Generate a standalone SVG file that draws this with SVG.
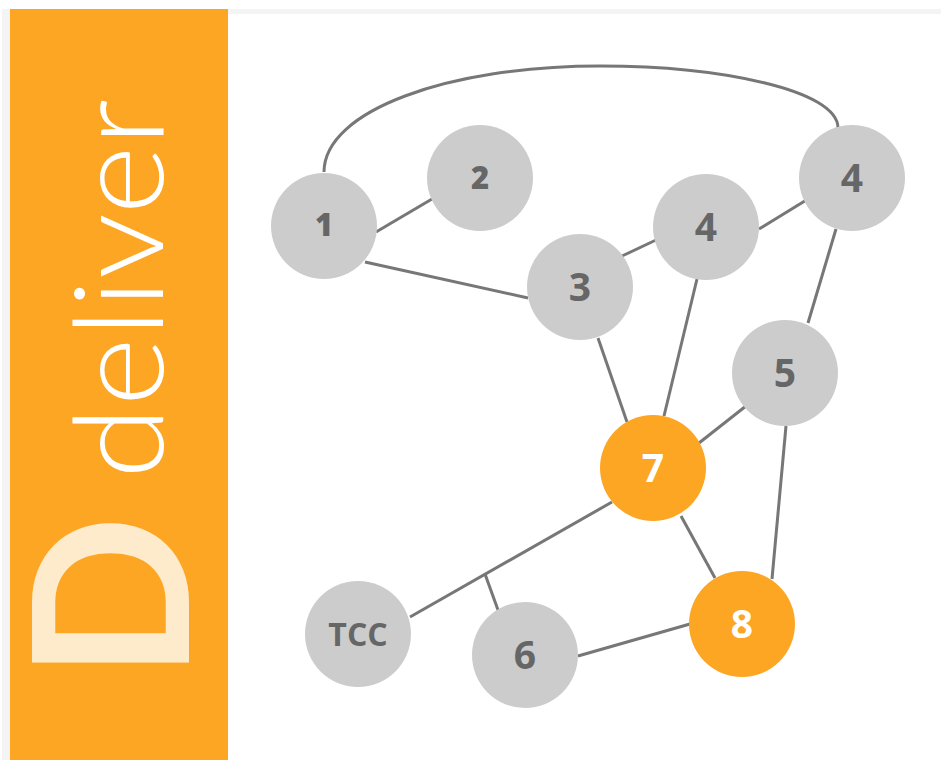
<svg xmlns="http://www.w3.org/2000/svg" width="941" height="760" viewBox="0 0 941 760">
<style>
.n{fill:#cccccc}
.o{fill:#fda624}
.t{font-family:"Open Sans","DejaVu Sans",sans-serif;font-weight:700;font-size:39px;fill:#666666;text-anchor:middle}
.s{font-size:31px;font-weight:800}
.w{fill:#ffffff}
.e{stroke:#777777;stroke-width:3;fill:none}
</style>
<rect x="0" y="0" width="941" height="760" fill="#ffffff"/>
<rect x="2" y="9" width="939" height="751" fill="#f4f4f4"/>
<rect x="10" y="14" width="931" height="746" fill="#ffffff"/>
<g id="banner">
<rect x="10" y="9" width="218" height="751" fill="#fda624"/>
<text transform="translate(163,479) rotate(-90)" font-family="Lato,'Open Sans',sans-serif" font-weight="300" font-size="124" fill="#ffffff" textLength="380" lengthAdjust="spacingAndGlyphs">deliver</text>
<text transform="translate(189,680) rotate(-90)" font-family="Lato,'Open Sans',sans-serif" font-weight="700" font-size="217" fill="#fdebcc">D</text>
</g>
<g id="connectors">
<path class="e" d="M324,172 C324,110 450,66 600,66 C720,66 838,90 838,128"/>
<line class="e" x1="376" y1="232" x2="432" y2="199"/>
<line class="e" x1="365" y1="262" x2="528" y2="298"/>
<line class="e" x1="622" y1="256" x2="656" y2="240"/>
<line class="e" x1="759" y1="229" x2="808" y2="199"/>
<line class="e" x1="836" y1="229" x2="808" y2="323"/>
<line class="e" x1="598" y1="338" x2="627" y2="422"/>
<line class="e" x1="697" y1="279" x2="664" y2="416"/>
<line class="e" x1="746" y1="406" x2="699" y2="443"/>
<line class="e" x1="681" y1="516" x2="715" y2="578"/>
<line class="e" x1="786" y1="426" x2="772" y2="579"/>
<line class="e" x1="612" y1="502" x2="410" y2="617"/>
<line class="e" x1="485" y1="574" x2="498" y2="610"/>
<line class="e" x1="578" y1="656" x2="690" y2="624"/>
</g>
<g id="node1"><circle class="n" cx="324" cy="226" r="53"/><text class="t s" x="324" y="236">1</text></g>
<g id="node2"><circle class="n" cx="480" cy="178" r="53"/><text class="t s" x="480" y="189">2</text></g>
<g id="node4a"><circle class="n" cx="852" cy="178" r="53"/><text class="t" x="852" y="192">4</text></g>
<g id="node4b"><circle class="n" cx="706" cy="227" r="53"/><text class="t" x="706" y="241">4</text></g>
<g id="node3"><circle class="n" cx="580" cy="287" r="53"/><text class="t" x="580" y="301">3</text></g>
<g id="node5"><circle class="n" cx="785" cy="373" r="53"/><text class="t" x="785" y="387">5</text></g>
<g id="node7"><circle class="o" cx="653" cy="468" r="53"/><text class="t w" x="653" y="482">7</text></g>
<g id="node8"><circle class="o" cx="742" cy="624" r="53"/><text class="t w" x="742" y="638">8</text></g>
<g id="node6"><circle class="n" cx="525" cy="655" r="53"/><text class="t" x="525" y="669">6</text></g>
<g id="nodeTCC"><circle class="n" cx="358" cy="634" r="53"/><text class="t" x="358" y="646" style="font-size:32px">TCC</text></g>
</svg>
